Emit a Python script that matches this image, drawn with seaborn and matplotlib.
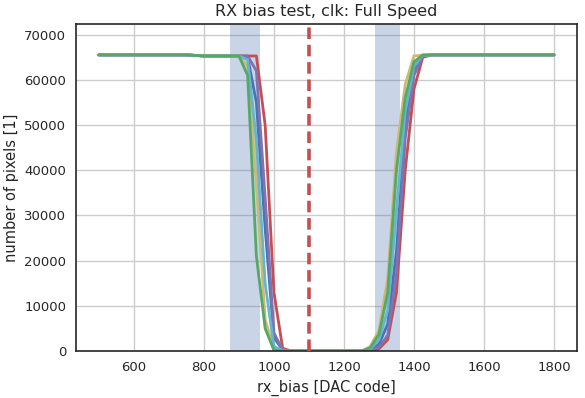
import numpy as np
import pandas as pd
import seaborn as sns
import matplotlib
matplotlib.use("Agg")
import matplotlib.pyplot as plt

# rx_bias scan points [DAC code]
rx_bias = list(range(500, 1825, 25))

# number of pixels responding, one series per pixel group
left_flat = [65536, 65536, 65536, 65536, 65536, 65536, 65536, 65536, 65536, 65536, 65536,
             65420, 65300, 65300, 65300, 65300]
right_flat = [65536, 65536, 65536, 65536, 65536, 65536, 65536, 65536,
              65536, 65536, 65536, 65536, 65536, 65536, 65536]
zeros_mid = [0, 0, 0, 0, 0, 0, 0, 0, 0]

blue = left_flat + [65300, 65000, 55000, 27000, 3000, 200] + zeros_mid + \
    [300, 1500, 6000, 22000, 50000, 62000, 65300] + right_flat
red = left_flat + [65300, 65300, 65300, 50000, 13000, 600] + zeros_mid + \
    [100, 500, 2500, 13000, 40000, 58000, 65000] + right_flat
purple = left_flat + [65300, 65300, 62000, 34000, 4000, 300] + zeros_mid + \
    [200, 800, 3500, 17000, 47000, 61000, 65300] + right_flat
yellow = left_flat + [65300, 63000, 37000, 7000, 300, 0] + zeros_mid + \
    [1000, 4500, 16000, 44000, 59000, 65300, 65500] + right_flat
cyan = left_flat + [65300, 64500, 46500, 15000, 1000, 100] + zeros_mid + \
    [400, 2500, 9000, 31000, 53000, 63000, 65500] + right_flat
green = left_flat + [65300, 61000, 21000, 5000, 200, 0] + zeros_mid + \
    [700, 3700, 13000, 40000, 56000, 64000, 65500] + right_flat

groups = ["blue", "red", "purple", "yellow", "cyan", "green"]
colors = ["#4C72B0", "#C44E52", "#8172B2", "#CCB974", "#64B5CD", "#55A868"]
values = [blue, red, purple, yellow, cyan, green]

spans = [(875, 960), (1290, 1360)]
threshold = 1100

df = pd.concat([pd.DataFrame({"rx_bias": rx_bias, "pixels": v, "group": g})
                for g, v in zip(groups, values)], ignore_index=True)

sns.set_style("white")
plt.rcParams["font.family"] = ["DejaVu Sans"]

fig, ax = plt.subplots(figsize=(5.85, 3.98), dpi=100)
fig.subplots_adjust(left=0.130, right=0.986, top=0.940, bottom=0.118)

for a, b in spans:
    ax.axvspan(a, b, color="#4C72B0", alpha=0.3, lw=0, zorder=1)

sns.lineplot(data=df, x="rx_bias", y="pixels", hue="group", hue_order=groups,
             palette=colors, linewidth=2.0, legend=False, ax=ax, zorder=2)

ax.axvline(threshold, color="#C44E52", linestyle=(0, (3.2, 1.6)), linewidth=2.6, zorder=3)

ax.grid(True, color="#cccccc", linewidth=1.0)
ax.set_axisbelow(True)
ax.set_ylim(0, 72400)
ax.set_xlim(435, 1865)
ax.set_xticks([600, 800, 1000, 1200, 1400, 1600, 1800])
ax.set_yticks([0, 10000, 20000, 30000, 40000, 50000, 60000, 70000])
ax.tick_params(labelsize=9.5, colors="#262626")
for s in ax.spines.values():
    s.set_color("#262626")
    s.set_linewidth(1.2)

ax.set_title("RX bias test, clk: Full Speed", fontsize=11.5, color="#262626")
ax.set_xlabel("rx_bias [DAC code]", fontsize=10.5, color="#262626")
ax.set_ylabel("number of pixels [1]", fontsize=10.5, color="#262626")

fig.savefig("out.png", dpi=100)
